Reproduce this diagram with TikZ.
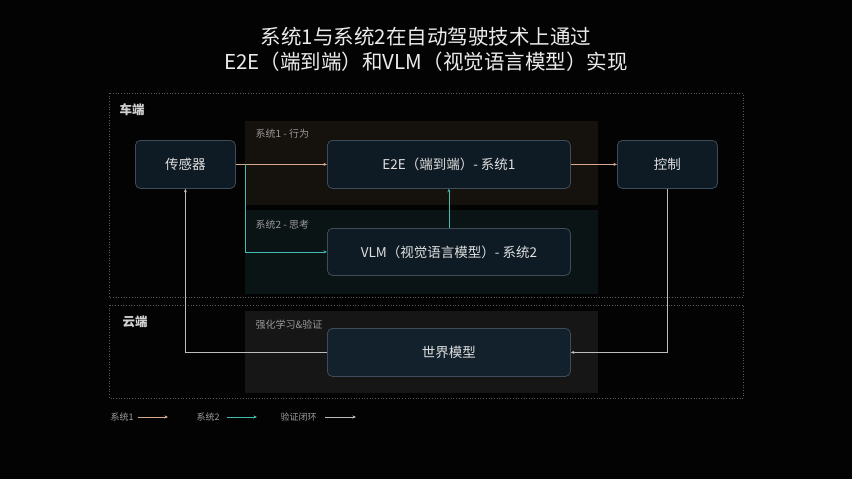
\documentclass[tikz,border=0pt]{standalone}
\usepackage{fontspec}
\setmainfont{Noto Sans CJK SC}
\usepackage{tikz}
\usetikzlibrary{arrows.meta}
\definecolor{bgblack}{HTML}{030303}
\definecolor{sysone}{HTML}{D9AA92}
\definecolor{systwo}{HTML}{3FBDB2}
\definecolor{loopgray}{HTML}{BDBDBD}
\definecolor{boxfill}{HTML}{0E1B25}
\definecolor{worldfill}{HTML}{13212C}
\definecolor{boxline}{HTML}{3C4C5A}
\definecolor{panelone}{HTML}{15110D}
\definecolor{paneltwo}{HTML}{0B1414}
\definecolor{panelthree}{HTML}{161616}
\tikzset{
    block/.style={draw=boxline, fill=boxfill, rounded corners=5pt, line width=0.8pt, text=white!88!black, font=\fontsize{13.5}{15}\selectfont, anchor=north west}, % 定义模块框的样式
    panel label/.style={text=white!60!black, font=\fontsize{10}{11}\selectfont, anchor=west}, % 定义分区标题的样式
    zone/.style={draw=white!35!black, dotted, line width=0.7pt}, % 定义车端/云端虚线框
    link/.style={line width=0.8pt, -{Stealth[length=3.5pt, width=3pt]}} % 定义连线的通用样式
}
\begin{document}
\begin{tikzpicture}[x=1pt, y=-1pt, font=\small]
            \fill[bgblack] (0,0) rectangle (852,479);
            \useasboundingbox (0,0) rectangle (852,479);

            \node[text=white!92!black, font=\fontsize{20.5}{25}\selectfont] (title1) at (426,37) {系统1与系统2在自动驾驶技术上通过};
            \node[text=white!92!black, font=\fontsize{20.5}{25}\selectfont] (title2) at (426,62) {E2E（端到端）和VLM（视觉语言模型）实现};

            % 车端与云端
            \draw[zone] (109,93) rectangle (743,297);
            \draw[zone] (109,305) rectangle (743,398);
            \node[text=white!82!black, font=\bfseries\fontsize{12.5}{14}\selectfont, anchor=west] (car) at (116,110) {车端};
            \node[text=white!82!black, font=\bfseries\fontsize{12.5}{14}\selectfont, anchor=west] (cloud) at (119,322) {云端};

            % 三个分区底色
            \fill[panelone] (245,121) rectangle (598,205);
            \fill[paneltwo] (245,210) rectangle (598,294);
            \fill[panelthree] (245,311) rectangle (598,393);
            \node[panel label] (p1) at (252,134) {系统1 - 行为};
            \node[panel label] (p2) at (252,225) {系统2 - 思考};
            \node[panel label] (p3) at (252,325) {强化学习\&验证};

            \node[block, minimum width=100pt, minimum height=48pt] (sensor) at (135,140) {传感器};
            \node[block, minimum width=243pt, minimum height=48pt] (e2e) at (327,140) {E2E（端到端）- 系统1};
            \node[block, minimum width=100pt, minimum height=48pt] (ctrl) at (617,140) {控制};
            \node[block, minimum width=243pt, minimum height=47pt] (vlm) at (327,228) {VLM（视觉语言模型）- 系统2};
            \node[block, fill=worldfill, minimum width=243pt, minimum height=48pt] (world) at (327,328) {世界模型};

            \coordinate (branch) at (245,164);
            \draw[link, sysone] (sensor) -- (e2e);
            \draw[link, sysone] (e2e) -- (ctrl);
            \draw[link, systwo] (branch) |- (vlm.west);
            \draw[link, systwo] (vlm) -- (e2e);
            \draw[link, loopgray] (ctrl.south) |- (world.east);
            \draw[link, loopgray] (world.west) -| (sensor.south);

            % 图例
            \node[text=white!62!black, font=\fontsize{9}{10}\selectfont, anchor=west] (leg1) at (107,417) {系统1};
            \node[text=white!62!black, font=\fontsize{9}{10}\selectfont, anchor=west] (leg2) at (193,417) {系统2};
            \node[text=white!62!black, font=\fontsize{9}{10}\selectfont, anchor=west] (leg3) at (277,417) {验证闭环};
            \foreach \a/\b/\c in {138/168/sysone, 227/257/systwo, 325/356/loopgray} {
                \coordinate (ls\a) at (\a,417); \coordinate (le\a) at (\b,417);
                \draw[link, line width=0.7pt, \c] (ls\a) -- (le\a);
            }
        \end{tikzpicture}
\end{document}
